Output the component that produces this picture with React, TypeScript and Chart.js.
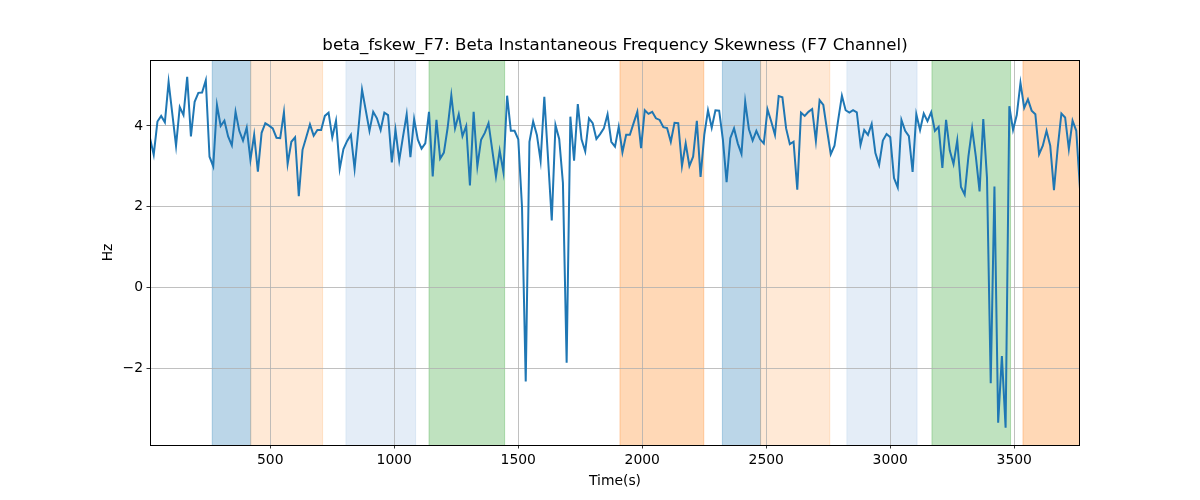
import React, { useEffect, useRef } from "react";
import { Chart, registerables } from "chart.js";

Chart.register(...registerables);

const TITLE = "beta_fskew_F7: Beta Instantaneous Frequency Skewness (F7 Channel)";
const X_LABEL = "Time(s)";
const Y_LABEL = "Hz";

const T_START = 15;
const T_STEP = 15;

const skewValues: number[] = [
  3.70, 3.29, 4.11, 4.25, 4.09, 5.09, 4.30, 3.51, 4.47, 4.27,
  5.22, 3.74, 4.60, 4.82, 4.83, 5.13, 3.24, 3.00, 4.52, 4.00,
  4.13, 3.74, 3.52, 4.35, 3.88, 3.64, 3.96, 3.16, 3.78, 2.87,
  3.83, 4.07, 4.01, 3.94, 3.71, 3.70, 4.34, 3.06, 3.61, 3.72,
  2.26, 3.41, 3.72, 4.04, 3.76, 3.90, 3.90, 4.25, 4.33, 3.72,
  4.13, 2.94, 3.43, 3.63, 3.78, 2.94, 3.90, 4.90, 4.39, 3.88,
  4.35, 4.19, 3.90, 4.33, 4.27, 3.10, 3.90, 3.15, 3.73, 4.29,
  3.23, 4.17, 3.66, 3.44, 3.57, 4.35, 2.75, 4.15, 3.19, 3.34,
  3.95, 4.76, 3.94, 4.29, 3.75, 4.00, 2.53, 4.35, 3.00, 3.66,
  3.83, 4.07, 3.41, 2.75, 3.39, 2.86, 4.75, 3.88, 3.88, 3.67,
  2.00, -2.33, 3.61, 4.11, 3.78, 3.14, 4.72, 3.20, 1.66, 4.02,
  3.68, 2.59, -1.86, 4.23, 3.14, 4.54, 3.67, 3.37, 4.19, 4.07,
  3.68, 3.80, 3.94, 4.29, 3.61, 3.49, 3.98, 3.35, 3.78, 3.78,
  4.07, 4.35, 3.45, 4.39, 4.30, 4.35, 4.19, 4.15, 3.97, 3.95,
  3.61, 4.08, 4.07, 3.01, 3.57, 3.01, 3.24, 4.13, 2.74, 3.78,
  4.39, 3.96, 4.39, 4.38, 3.66, 2.61, 3.70, 3.94, 3.57, 3.31,
  4.60, 3.92, 3.64, 3.88, 3.67, 3.57, 4.41, 4.11, 3.78, 4.74,
  4.71, 3.94, 3.55, 3.61, 2.42, 4.33, 4.25, 4.35, 4.42, 3.63,
  4.64, 4.52, 3.90, 3.30, 3.51, 4.15, 4.75, 4.39, 4.33, 4.39,
  4.34, 3.53, 3.90, 3.78, 4.05, 3.33, 3.04, 3.64, 3.80, 3.72,
  2.71, 2.48, 4.15, 3.88, 3.75, 2.86, 4.29, 3.90, 4.31, 4.12,
  4.34, 3.88, 3.98, 2.96, 4.15, 3.39, 3.06, 3.64, 2.49, 2.30,
  3.24, 3.94, 3.24, 2.38, 4.17, 2.71, -2.37, 2.50, -3.35, -1.70,
  -3.47, 4.49, 3.90, 4.27, 5.07, 4.45, 4.66, 4.38, 4.29, 3.30,
  3.51, 3.88, 3.51, 2.41, 3.45, 4.31, 4.21, 3.43, 4.13, 3.88,
  2.44,
];

const timeValues: number[] = skewValues.map((_, i) => T_START + i * T_STEP);

const xTicks = [500, 1000, 1500, 2000, 2500, 3000, 3500];
const yTicks = [-2, 0, 2, 4];

const X_MIN = 15;
const X_MAX = 3765;
const Y_MIN = -3.9;
const Y_MAX = 5.634;

const bandStarts = [266, 421, 805, 1140, 1910, 2323, 2477, 2825, 3168, 3535];
const bandEnds = [421, 711, 1086, 1445, 2248, 2477, 2756, 3108, 3485, 3800];
const bandColors = [
  "rgba(31,119,180,0.3)",
  "rgba(255,127,14,0.17)",
  "rgba(174,199,232,0.33)",
  "rgba(44,160,44,0.3)",
  "rgba(255,127,14,0.3)",
  "rgba(31,119,180,0.3)",
  "rgba(255,127,14,0.17)",
  "rgba(174,199,232,0.33)",
  "rgba(44,160,44,0.3)",
  "rgba(255,127,14,0.3)",
];

const FONT = "DejaVu Sans";

const bandsPlugin = {
  id: "bandsAndFrame",
  beforeDraw(chart: any) {
    const { ctx, chartArea: a, scales } = chart;
    const xs = scales.x;
    ctx.save();
    ctx.beginPath();
    ctx.rect(a.left, a.top, a.right - a.left, a.bottom - a.top);
    ctx.clip();
    for (let i = 0; i < bandStarts.length; i++) {
      const x1 = xs.getPixelForValue(bandStarts[i]);
      const x2 = xs.getPixelForValue(bandEnds[i]);
      ctx.fillStyle = bandColors[i];
      ctx.fillRect(x1, a.top, x2 - x1, a.bottom - a.top);
      ctx.strokeStyle = bandColors[i];
      ctx.lineWidth = 1;
      ctx.beginPath();
      ctx.moveTo(x1, a.top);
      ctx.lineTo(x1, a.bottom);
      ctx.moveTo(x2, a.top);
      ctx.lineTo(x2, a.bottom);
      ctx.stroke();
    }
    ctx.restore();
  },
  afterDatasetsDraw(chart: any) {
    const { ctx, chartArea: a } = chart;
    ctx.save();
    ctx.strokeStyle = "#000";
    ctx.lineWidth = 1;
    ctx.strokeRect(a.left + 0.5, a.top + 0.5, a.right - a.left - 1, a.bottom - a.top);
    ctx.restore();
  },
};

export default function App() {
  const canvasRef = useRef<HTMLCanvasElement | null>(null);

  useEffect(() => {
    const canvas = canvasRef.current;
    if (!canvas) return;
    const tickFont = { family: FONT, size: 13.9 };
    const chart = new Chart(canvas, {
      type: "line",
      data: {
        datasets: [
          {
            label: "beta_fskew_F7",
            data: skewValues.map((v, i) => ({ x: timeValues[i], y: v })),
            borderColor: "#1f77b4",
            backgroundColor: "#1f77b4",
            borderWidth: 2,
            pointRadius: 0,
            tension: 0,
            fill: false,
          },
        ],
      },
      options: {
        responsive: false,
        animation: false,
        events: [],
        devicePixelRatio: 1,
        layout: { padding: { left: 0, right: 120, top: 0, bottom: 0 } },
        plugins: {
          legend: { display: false },
          tooltip: { enabled: false },
          title: {
            display: true,
            text: TITLE,
            color: "#000",
            fullSize: false,
            font: { family: FONT, size: 16.67, weight: "normal" },
            padding: { top: 36, bottom: 4 },
          },
        },
        scales: {
          x: {
            type: "linear",
            min: X_MIN,
            max: X_MAX,
            afterBuildTicks: (s: any) => {
              s.ticks = xTicks.map((v) => ({ value: v }));
            },
            afterFit: (s: any) => {
              s.height = 55;
            },
            ticks: {
              font: tickFont,
              color: "#000",
              padding: 4,
              maxRotation: 0,
              autoSkip: false,
              callback: (v: any) => String(v),
            },
            grid: {
              color: "#b0b0b0",
              lineWidth: 0.8,
              tickColor: "#000",
              tickLength: 3.5,
              tickWidth: 0.8,
            },
            border: { display: false },
            title: {
              display: true,
              text: X_LABEL,
              color: "#000",
              font: { family: FONT, size: 13.9 },
              padding: { top: 0, bottom: 10.7 },
            },
          },
          y: {
            type: "linear",
            min: Y_MIN,
            max: Y_MAX,
            afterBuildTicks: (s: any) => {
              s.ticks = yTicks.map((v) => ({ value: v }));
            },
            afterFit: (s: any) => {
              s.width = 150;
            },
            ticks: {
              font: tickFont,
              color: "#000",
              padding: 3.5,
              autoSkip: false,
              callback: (v: any) => (v < 0 ? "\u2212" + Math.abs(v) : String(v)),
            },
            grid: {
              color: "#b0b0b0",
              lineWidth: 0.8,
              tickColor: "#000",
              tickLength: 3.5,
              tickWidth: 0.8,
            },
            border: { display: false },
            title: {
              display: true,
              text: Y_LABEL,
              color: "#000",
              font: { family: FONT, size: 13.9 },
              padding: { top: 99.7, bottom: 0 },
            },
          },
        },
      },
      plugins: [bandsPlugin],
    } as any);
    return () => chart.destroy();
  }, []);

  return (
    <div style={{ position: "fixed", left: 0, top: 0, width: 1200, height: 500, background: "#fff" }}>
      <canvas ref={canvasRef} width={1200} height={500} style={{ width: 1200, height: 500, display: "block" }} />
    </div>
  );
}
